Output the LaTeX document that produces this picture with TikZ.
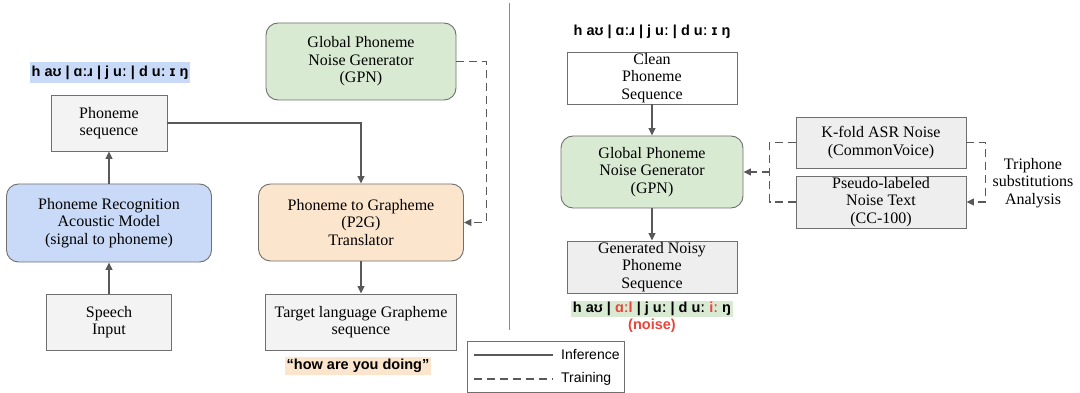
\documentclass[tikz,border=0pt]{standalone}
\usepackage{fontspec}
\setmainfont{Liberation Serif}
\setsansfont{Liberation Sans}
\usetikzlibrary{arrows.meta}
\definecolor{edge}{HTML}{6F6F6F}
\definecolor{conn}{HTML}{595959}
\definecolor{grayfill}{HTML}{F3F3F3}
\definecolor{grayfillb}{HTML}{EEEEEE}
\definecolor{bluefill}{HTML}{C9DAF8}
\definecolor{greenfill}{HTML}{D9EAD3}
\definecolor{orangefill}{HTML}{FCE5CD}
\definecolor{noisered}{HTML}{E8453C}
\begin{document}
\begin{tikzpicture}[x=1pt,y=-1pt,
  box/.style={draw=edge, line width=0.9pt, inner sep=0pt, align=center,
    font=\fontsize{16}{17.5}\selectfont},
  rbox/.style={box, rounded corners=12pt},
  conn/.style={draw=conn, line width=1.3pt, -{Triangle[width=7pt,length=7.5pt]}},
  dconn/.style={conn, dash pattern=on 8pt off 5pt},
  dline/.style={draw=conn, line width=1.3pt, dash pattern=on 8pt off 5pt},
  phon/.style={font=\fontsize{14.5}{16}\selectfont\sffamily\bfseries, inner sep=2pt},
  lab/.style={font=\fontsize{16}{17.5}\selectfont, align=center, inner sep=0pt}
]
\useasboundingbox (0,0) rectangle (1080,393);

% ---------- left part ----------
\node[phon, fill=bluefill, minimum height=21pt] (labL) at (110,73) {h aʊ | ɑːɹ | j uː | d uː ɪ ŋ};
\node[box, fill=grayfill, minimum width=116pt, minimum height=56pt] (phseq) at (109,123) {Phoneme\\sequence};
\node[rbox, fill=bluefill, minimum width=205pt, minimum height=78pt] (am) at (109,223) {Phoneme Recognition\\Acoustic Model\\(signal to phoneme)};
\node[box, fill=grayfill, minimum width=125pt, minimum height=56pt] (speech) at (109,322) {Speech\\Input};

\node[rbox, fill=greenfill, minimum width=190pt, minimum height=77pt] (gpnL) at (361,61.5) {Global Phoneme\\Noise Generator\\(GPN)};
\node[rbox, fill=orangefill, minimum width=205pt, minimum height=77pt] (p2g) at (361,222.5) {Phoneme to Grapheme\\(P2G)\\Translator};
\node[box, fill=grayfill, minimum width=191pt, minimum height=56pt] (target) at (361,322) {Target language Grapheme\\sequence};
\node[phon, fill=orangefill] (how) at (358,366) {“how are you doing”};

\draw[conn] (speech.north) -- (am.south);
\draw[conn] (am.north) -- (phseq.south);
\draw[conn] (phseq.east) -| (p2g.north);
\draw[conn] (p2g.south) -- (target.north);
\draw[dconn] (gpnL.east) -- ++(30,0) |- (p2g.east);

% ---------- divider ----------
\coordinate (divtop) at (509,3);
\coordinate (divbot) at (509,330);
\draw[draw=edge!80, line width=0.9pt] (divtop) -- (divbot);

% ---------- legend ----------
\node[draw=edge, line width=0.9pt, minimum width=157pt, minimum height=51pt, inner sep=0pt] (legend) at (545.5,366.5) {};
\coordinate (l1a) at (474,355);
\coordinate (l1b) at (553,355);
\coordinate (l2a) at (474,379);
\coordinate (l2b) at (553,379);
\draw[draw=conn, line width=1.1pt] (l1a) -- (l1b);
\draw[dline, line width=1.1pt] (l2a) -- (l2b);
\node[anchor=west, inner sep=0pt, font=\fontsize{14}{16}\selectfont\sffamily] (inf) at (561,355) {Inference};
\node[anchor=west, inner sep=0pt, font=\fontsize{14}{16}\selectfont\sffamily] (trn) at (561,379) {Training};

% ---------- right part ----------
\node[phon] (labR) at (652,32) {h aʊ | ɑːɹ | j uː | d uː ɪ ŋ};
\node[box, fill=white, minimum width=170pt, minimum height=52pt] (clean) at (652,78) {Clean\\Phoneme\\Sequence};
\node[rbox, fill=greenfill, minimum width=182pt, minimum height=72pt] (gpnR) at (652,172) {Global Phoneme\\Noise Generator\\(GPN)};
\node[box, fill=grayfillb, minimum width=170pt, minimum height=52pt] (gen) at (652,267) {Generated Noisy\\Phoneme\\Sequence};
\node[phon, fill=greenfill, inner sep=1.5pt] (noisy) at (652,309) {h aʊ | \textcolor{noisered}{ɑːl} | j uː | d uː \textcolor{noisered}{iː} ŋ};
\node[phon, text=noisered, inner sep=0pt] (noise) at (652,326) {(noise)};

\node[box, fill=grayfillb, minimum width=170pt, minimum height=51pt] (kfold) at (881,142.5) {K-fold ASR Noise\\(CommonVoice)};
\node[box, fill=grayfillb, minimum width=170pt, minimum height=52pt] (pseudo) at (881,202) {Pseudo-labeled\\Noise Text\\(CC-100)};
\node[lab] (tri) at (1033,183) {Triphone\\substitutions\\Analysis};

\draw[conn] (clean.south) -- (gpnR.north);
\draw[conn] (gpnR.south) -- (gen.north);
\draw[dline] (kfold.west) -- ++(-26,0) |- (pseudo.west);
\coordinate (brk) at (770,172);
\draw[dconn] (brk) -- (gpnR.east);
\draw[dconn] (kfold.east) -- ++(19,0) |- (pseudo.east);
\end{tikzpicture}
\end{document}
